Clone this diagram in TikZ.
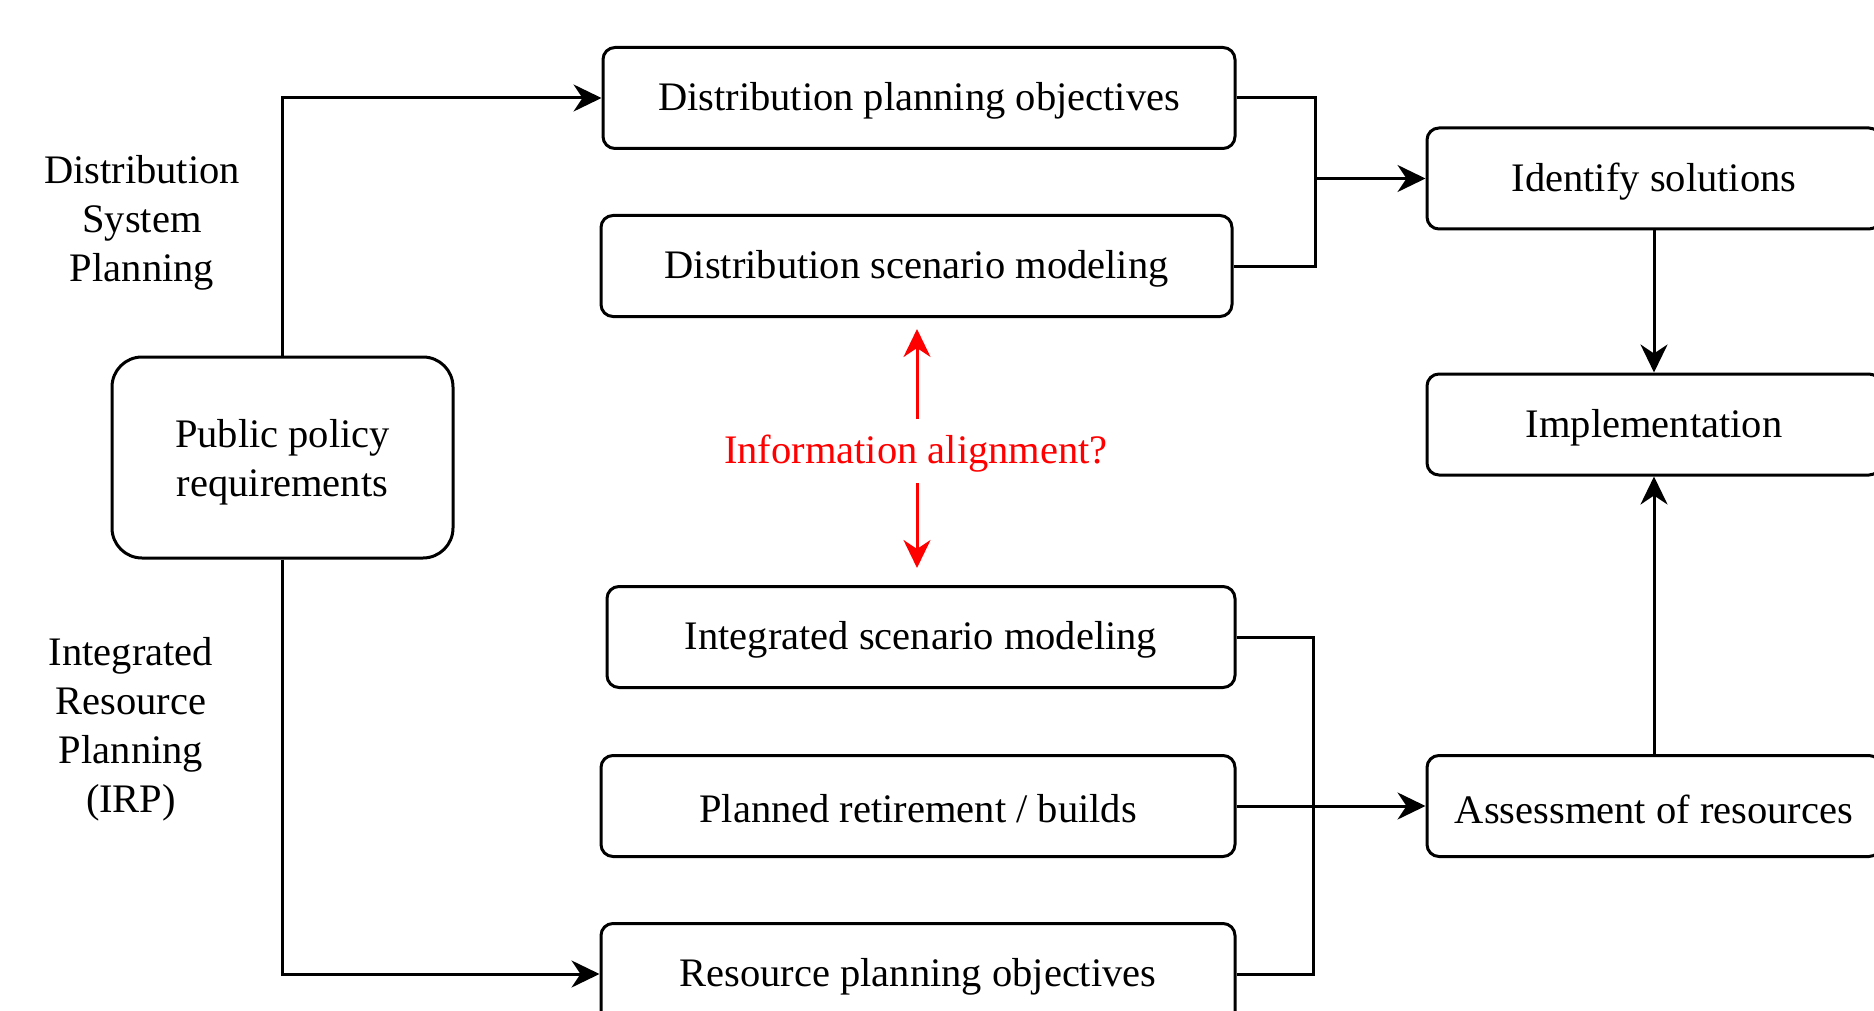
\documentclass[tikz,border=0pt]{standalone}
\usepackage{fontspec}
\setmainfont{Liberation Serif}
\usetikzlibrary{arrows.meta}
\begin{document}
\begin{tikzpicture}[x=1pt,y=-1pt,
  lbl/.style={align=center, font=\fontsize{40.5}{49}\selectfont, inner sep=0pt},
  box/.style={draw, line width=3pt, rounded corners=12pt, minimum height=101pt, inner sep=0pt,
              label={[lbl, yshift=-3pt]center:#1}},
  conn/.style={line width=3pt},
  arr/.style={line width=3pt, -{Stealth[length=28pt,width=27pt,inset=9pt]}}]
\useasboundingbox (0,0) rectangle (1874,1011);
\clip (0,0) rectangle (1874,1011);

\node[box={Distribution planning objectives}, minimum width=632pt] (dpo) at (919,98) {};
\node[box={Distribution scenario modeling}, minimum width=631pt] (dsm) at (916.5,266) {};
\node[box={Integrated scenario modeling}, minimum width=628pt] (ism) at (921,637) {};
\node[box={Planned retirement / builds}, minimum width=634pt] (prb) at (918,806) {};
\node[box={Resource planning objectives}, minimum width=634pt] (rpo) at (918,974) {};
\node[box={Identify solutions}, minimum width=454pt] (ids) at (1654,178.5) {};
\node[box={Implementation}, minimum width=454pt] (imp) at (1654,424.5) {};
\node[box={Assessment of resources}, minimum width=454pt] (ass) at (1654,806) {};
\node[draw, line width=3pt, inner sep=0pt, minimum width=341pt, minimum height=201pt, rounded corners=30pt,
      label={[lbl, yshift=-5pt]center:Public policy\\requirements}] (ppr) at (282.5,457.5) {};

\node[lbl] (dsp) at (142,222.5) {Distribution\\System\\Planning};
\node[lbl] (irp) at (131,729.5) {Integrated\\Resource\\Planning\\(IRP)};

\draw[arr] (ppr.north) |- (dpo.west);
\draw[arr] (ppr.south) |- (rpo.west);

\coordinate (j1) at (1315,178.5);
\draw[conn] (dpo.east) -| (j1) |- (dsm.east);
\draw[arr] (j1) -- (ids.west);

\coordinate (j2) at (1313,806);
\draw[conn] (ism.east) -| (j2) |- (rpo.east);
\draw[arr] (prb.east) -- (ass.west);

\draw[arr] (ids.south) -- (imp.north);
\draw[arr] (ass.north) -- (imp.south);

\node[lbl, text=red] (info) at (916,454) {Information alignment?};
\coordinate (rt) at (917,329);
\coordinate (rb) at (917,568);
\coordinate (ra) at (917,419);
\coordinate (rc) at (917,483);
\draw[arr, red] (ra) -- (rt);
\draw[arr, red] (rc) -- (rb);
\end{tikzpicture}
\end{document}
